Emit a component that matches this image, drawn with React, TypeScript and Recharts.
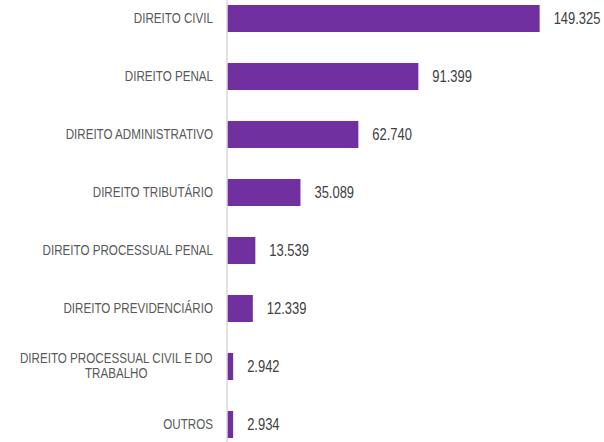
import React from "react";
import { BarChart, Bar, XAxis, YAxis, LabelList } from "recharts";

const categories = [
  "DIREITO CIVIL",
  "DIREITO PENAL",
  "DIREITO ADMINISTRATIVO",
  "DIREITO TRIBUTÁRIO",
  "DIREITO PROCESSUAL PENAL",
  "DIREITO PREVIDENCIÁRIO",
  "DIREITO PROCESSUAL CIVIL E DO\nTRABALHO",
  "OUTROS",
];
const values = [149325, 91399, 62740, 35089, 13539, 12339, 2942, 2934];

const data = categories.map((name, i) => ({ name, value: values[i] }));

// no narrow font installed, so squeeze Liberation Sans horizontally
const FONT = "'Liberation Sans', Arial, sans-serif";
const NARROW = 0.83;
const TICK_SIZE = 14;
const VALUE_SIZE = 15.6;

let ctx: CanvasRenderingContext2D | null = null;
const measure = (s: string) => {
  if (!ctx) ctx = document.createElement("canvas").getContext("2d");
  if (!ctx) return s.length * 8;
  ctx.font = `${TICK_SIZE}px ${FONT}`;
  return ctx.measureText(s).width;
};

const CategoryTick = (props: any) => {
  const { x, y, payload } = props;
  const lines: string[] = String(payload.value).split("\n");
  const lh = 15;
  const start = -((lines.length - 1) * lh) / 2;
  const w = lines.length > 1 ? Math.max(...lines.map(measure)) : 0;
  return (
    <g transform={`translate(${x},${y}) scale(${NARROW},1)`}>
      <text
        x={lines.length > 1 ? -w / 2 : 0}
        y={0}
        textAnchor={lines.length > 1 ? "middle" : "end"}
        fill="#595959"
        fontSize={TICK_SIZE}
        fontFamily={FONT}
      >
        {lines.map((l, i) => (
          <tspan key={i} x={lines.length > 1 ? -w / 2 : 0} y={start + i * lh} dy="0.35em">
            {l}
          </tspan>
        ))}
      </text>
    </g>
  );
};

const ValueLabel = (props: any) => {
  const { x, y, width, height, value } = props;
  const tx = Number(x) + Number(width) + 14;
  const ty = Number(y) + Number(height) / 2;
  return (
    <g transform={`translate(${tx},${ty}) scale(${NARROW},1)`}>
      <text x={0} y={0} dy="0.36em" fill="#404040" fontSize={VALUE_SIZE} fontFamily={FONT}>
        {Number(value).toLocaleString("pt-BR")}
      </text>
    </g>
  );
};

export default function App() {
  return (
    <div
      style={{
        position: "absolute",
        left: 0,
        top: 0,
        width: 604,
        height: 442,
        overflow: "hidden",
        background: "#ffffff",
      }}
    >
      <div style={{ position: "absolute", left: 0, top: -11 }}>
        <BarChart
          width={604}
          height={464}
          data={data}
          layout="vertical"
          margin={{ top: 0, right: 42, bottom: 0, left: 0 }}
        >
          <XAxis type="number" domain={[0, 160000]} hide />
          <YAxis
            type="category"
            dataKey="name"
            width={227}
            axisLine={{ stroke: "#d9d9d9", strokeWidth: 1.5 }}
            tickLine={false}
            tickSize={0}
            tickMargin={14}
            interval={0}
            tick={<CategoryTick />}
          />
          <Bar dataKey="value" fill="#7030A0" barSize={27} isAnimationActive={false}>
            <LabelList dataKey="value" content={<ValueLabel />} />
          </Bar>
        </BarChart>
      </div>
    </div>
  );
}
